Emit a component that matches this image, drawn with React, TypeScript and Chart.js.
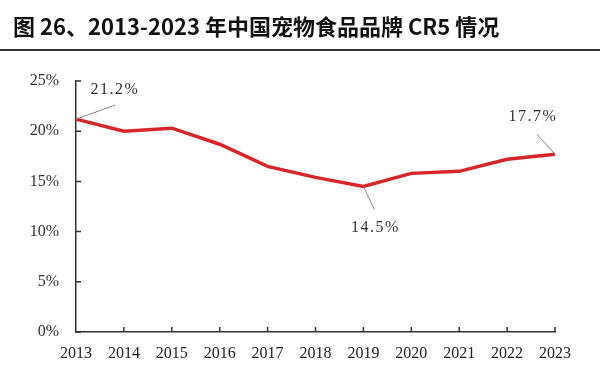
import React, { useEffect, useRef } from "react";
import { Chart, registerables } from "chart.js";

Chart.register(...registerables);

const years = ["2013", "2014", "2015", "2016", "2017", "2018", "2019", "2020", "2021", "2022", "2023"];
const cr5 = [21.2, 20.0, 20.3, 18.7, 16.5, 15.4, 14.5, 15.8, 16.0, 17.2, 17.7];
const yTicks = [0, 5, 10, 15, 20, 25];
const labelIndexes = [0, 6, 10];
const labelTexts = ["21.2%", "14.5%", "17.7%"];
// leader line end offset and text centre offset, in pixels from the point
const labelOffsets = [
  { lx: 39, ly: -14, tx: 39, ty: -29 },
  { lx: 11, ly: 23, tx: 12, ty: 41 },
  { lx: -18, ly: -20, tx: -22, ty: -37 },
];

const SERIF = "'Liberation Serif', 'DejaVu Serif', serif";

const decorPlugin = {
  id: "decor",
  afterDatasetsDraw(chart: any) {
    const ctx = chart.ctx;
    const xs = chart.scales.x;
    const ys = chart.scales.y;
    const area = chart.chartArea;
    ctx.save();
    // inner ticks
    ctx.strokeStyle = "#333";
    ctx.lineWidth = 1.5;
    ctx.beginPath();
    yTicks.forEach((v) => {
      const y = ys.getPixelForValue(v);
      ctx.moveTo(area.left, y);
      ctx.lineTo(area.left + 5, y);
    });
    years.forEach((_, i) => {
      if (i === 0) return;
      const x = xs.getPixelForValue(i);
      ctx.moveTo(x, area.bottom);
      ctx.lineTo(x, area.bottom - 5);
    });
    ctx.stroke();
    // labels
    const meta = chart.getDatasetMeta(0);
    labelIndexes.forEach((idx, k) => {
      const p = meta.data[idx];
      const o = labelOffsets[k];
      ctx.strokeStyle = "#888";
      ctx.lineWidth = 1;
      ctx.beginPath();
      ctx.moveTo(p.x, p.y);
      ctx.lineTo(p.x + o.lx, p.y + o.ly);
      ctx.stroke();
      ctx.fillStyle = "#333";
      ctx.font = "16px " + SERIF;
      (ctx as any).letterSpacing = "1.5px";
      ctx.textAlign = "center";
      ctx.textBaseline = "middle";
      ctx.fillText(labelTexts[k], p.x + o.tx, p.y + o.ty);
    });
    ctx.restore();
  },
};

export default function App() {
  const ref = useRef<HTMLCanvasElement>(null);
  useEffect(() => {
    if (!ref.current) return;
    const chart = new Chart(ref.current, {
      type: "line",
      data: {
        labels: years,
        datasets: [
          {
            data: cr5,
            borderColor: "#d7262b",
            borderWidth: 3.5,
            pointRadius: 0,
            tension: 0,
            fill: false,
          },
        ],
      },
      options: {
        animation: false,
        responsive: false,
        maintainAspectRatio: false,
        events: [],
        layout: { padding: { left: 0, right: 45, top: 81, bottom: 0 } },
        plugins: { legend: { display: false }, tooltip: { enabled: false }, title: { display: false } },
        scales: {
          x: {
            type: "category",
            offset: false,
            grid: { display: false, drawTicks: false },
            border: { display: true, color: "#333", width: 1.5 },
            ticks: {
              color: "#222",
              font: { family: SERIF, size: 16 },
              padding: 12,
              maxRotation: 0,
              autoSkip: false,
            },
            afterFit: (s: any) => {
              s.height = 53;
            },
          },
          y: {
            min: 0,
            max: 25,
            grid: { display: false, drawTicks: false },
            border: { display: true, color: "#333", width: 1.5 },
            afterBuildTicks: (s: any) => {
              s.ticks = yTicks.map((v) => ({ value: v }));
            },
            ticks: {
              color: "#333",
              font: { family: SERIF, size: 16 },
              padding: 17,
              callback: (v: any) => v + "%",
            },
            afterFit: (s: any) => {
              s.width = 76;
            },
          },
        },
      },
      plugins: [decorPlugin],
    });
    return () => chart.destroy();
  }, []);
  return (
    <div style={{ position: "fixed", left: 0, top: 0, width: 600, height: 385, background: "#fff", overflow: "hidden" }}>
      <canvas ref={ref} width={600} height={385} style={{ position: "absolute", left: 0, top: 0, width: 600, height: 385 }} />
      <div
        style={{
          position: "absolute",
          left: 13,
          top: 11,
          fontFamily: "'Noto Sans CJK SC', sans-serif",
          fontWeight: 700,
          fontSize: 22,
          lineHeight: "28px",
          color: "#111",
          whiteSpace: "nowrap",
        }}
      >
        图 26、2013-2023 年中国宠物食品品牌 CR5 情况
      </div>
      <div style={{ position: "absolute", left: 0, top: 49, width: 600, height: 2, background: "#333" }} />
    </div>
  );
}
